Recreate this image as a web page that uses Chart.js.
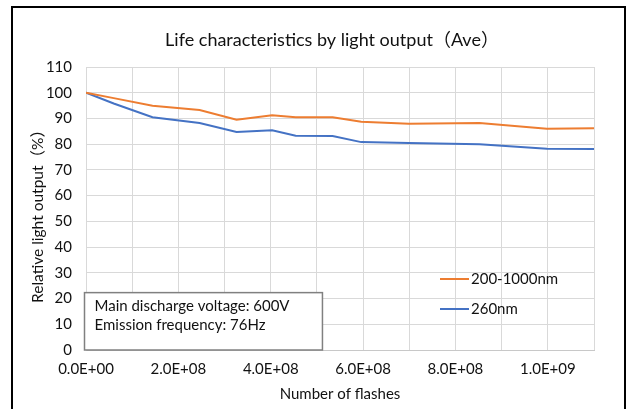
<!DOCTYPE html>
<html>
<head>
<meta charset="utf-8">
<script src="https://cdn.jsdelivr.net/npm/chart.js@4"></script>
<style>
  html, body { margin: 0; padding: 0; background: #fff; overflow: hidden; }
  #wrap { position: relative; width: 635px; height: 409px; }
  #frame { position: absolute; left: 11px; top: 6px; width: 615px; height: 420px; border: 2.5px solid #000; box-sizing: border-box; }
  canvas { position: absolute; left: 0; top: 0; }
</style>
</head>
<body>
<div id="wrap">
  <canvas id="c" width="635" height="409"></canvas>
  <div id="frame"></div>
</div>
<script>
const FONT = "Lato, 'Noto Sans CJK JP', sans-serif";

// number of flashes
const flashes = [0, 0.6e8, 1.44e8, 2.46e8, 3.26e8, 4.03e8, 4.54e8, 5.34e8, 5.96e8, 6.99e8, 8.52e8, 9.98e8, 1.1e9];
// relative light output (%)
const broadband = [100, 97.9, 94.9, 93.3, 89.5, 91.2, 90.5, 90.5, 88.7, 87.9, 88.2, 86.0, 86.2];
const uv260 = [100, 95.8, 90.5, 88.2, 84.7, 85.4, 83.3, 83.2, 80.8, 80.5, 80.0, 78.2, 78.1];

const seriesNames = ["200-1000nm", "260nm"];
const seriesColors = ["#ED7D31", "#4472C4"];
const xTickLabels = ["0.0E+00", "", "2.0E+08", "", "4.0E+08", "", "6.0E+08", "", "8.0E+08", "", "1.0E+09", ""];
const noteLines = ["Main discharge voltage: 600V", "Emission frequency: 76Hz"];

const toPoints = ys => ys.map((y, i) => ({ x: flashes[i], y: y }));

const extras = {
  id: "extras",
  afterDatasetsDraw(chart) {
    const ctx = chart.ctx, x = chart.scales.x, y = chart.scales.y, a = chart.chartArea;
    ctx.save();
    // note box
    const bx0 = x.getPixelForValue(0) - 1.5, bx1 = x.getPixelForValue(5.12e8);
    const by0 = y.getPixelForValue(22.3), by1 = y.getPixelForValue(0);
    ctx.fillStyle = "#fff";
    ctx.fillRect(bx0, by0, bx1 - bx0, by1 - by0);
    ctx.strokeStyle = "#808080";
    ctx.lineWidth = 1.5;
    ctx.strokeRect(bx0, by0, bx1 - bx0, by1 - by0);
    ctx.fillStyle = "#111";
    ctx.font = "15px " + FONT;
    ctx.textBaseline = "middle";
    ctx.textAlign = "left";
    ctx.fillText(noteLines[0], bx0 + 10, by0 + 14);
    ctx.fillText(noteLines[1], bx0 + 10, by0 + 33);
    // legend
    const lx = a.right - 154;
    [279, 309].forEach((ly, i) => {
      ctx.strokeStyle = seriesColors[i];
      ctx.lineWidth = 2;
      ctx.beginPath();
      ctx.moveTo(lx, ly);
      ctx.lineTo(lx + 29, ly);
      ctx.stroke();
      ctx.fillStyle = "#111";
      ctx.fillText(seriesNames[i], lx + 31, ly);
    });
    ctx.restore();
  },
  afterDraw(chart) {
    const ctx = chart.ctx, a = chart.chartArea;
    ctx.save();
    ctx.fillStyle = "#111";
    ctx.textAlign = "center";
    ctx.textBaseline = "middle";
    ctx.font = "18px " + FONT;
    ctx.fillText("Life characteristics by light output（Ave）", 332, 40);
    ctx.font = "15px " + FONT;
    ctx.fillText("Number of flashes", (a.left + a.right) / 2, 394);
    ctx.translate(38, (a.top + a.bottom) / 2 + 4);
    ctx.rotate(-Math.PI / 2);
    ctx.font = "15.5px " + FONT;
    ctx.fillText("Relative light output（%）", 0, 0);
    ctx.restore();
  }
};

new Chart(document.getElementById("c"), {
  type: "line",
  data: {
    datasets: [
      { label: seriesNames[0], data: toPoints(broadband), borderColor: seriesColors[0], backgroundColor: seriesColors[0], borderWidth: 2, pointRadius: 0, tension: 0 },
      { label: seriesNames[1], data: toPoints(uv260), borderColor: seriesColors[1], backgroundColor: seriesColors[1], borderWidth: 2, pointRadius: 0, tension: 0 }
    ]
  },
  options: {
    responsive: false,
    animation: false,
    layout: { padding: { left: 0, top: 67, right: 41, bottom: 0 } },
    plugins: { legend: { display: false }, title: { display: false }, tooltip: { enabled: false } },
    scales: {
      x: {
        type: "linear",
        min: 0,
        max: 1.1e9,
        afterFit: s => { s.height = 59; },
        afterBuildTicks: s => { s.ticks = xTickLabels.map((_, i) => ({ value: i * 1e8 })); },
        ticks: {
          autoSkip: false,
          maxRotation: 0,
          padding: 10,
          color: "#111",
          font: { family: FONT, size: 15 },
          callback: (v, i) => xTickLabels[i]
        },
        grid: { color: "#d9d9d9", lineWidth: 1, drawTicks: false },
        border: { color: "#c8c8c8", width: 1 }
      },
      y: {
        min: 0,
        max: 110,
        afterFit: s => { s.width = 86; },
        ticks: { stepSize: 10, padding: 14, color: "#111", font: { family: FONT, size: 15 } },
        grid: { color: "#d9d9d9", lineWidth: 1, drawTicks: false },
        border: { color: "#d9d9d9", width: 1 }
      }
    }
  },
  plugins: [extras]
});
</script>
</body>
</html>
